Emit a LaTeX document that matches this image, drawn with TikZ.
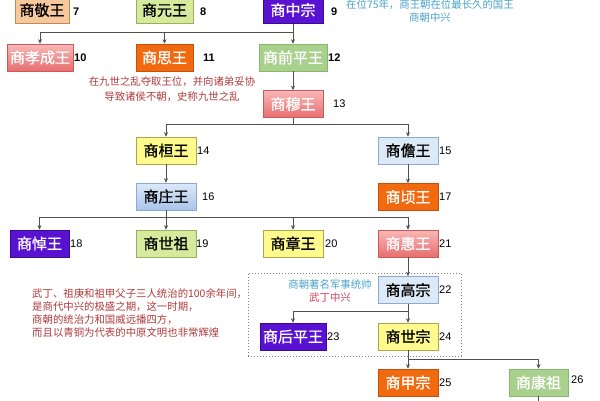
\documentclass[tikz,border=0pt]{standalone}
\usepackage{fontspec}
\setmainfont{Liberation Sans}
\newfontfamily\cjk{Noto Sans CJK SC}
\newfontfamily\cjkb[FakeBold=0.9]{Noto Sans CJK SC}
\usetikzlibrary{arrows.meta}
\definecolor{tanF}{HTML}{F6C89C}\definecolor{tanD}{HTML}{C08A55}
\definecolor{limeF}{HTML}{D6EA9E}\definecolor{limeD}{HTML}{9AB060}
\definecolor{purF}{HTML}{5A12D2}\definecolor{purD}{HTML}{3A0A90}
\definecolor{pinkT}{HTML}{F8B8B8}\definecolor{pinkB}{HTML}{E86E6E}\definecolor{pinkD}{HTML}{C85A5A}
\definecolor{oraF}{HTML}{F26A10}\definecolor{oraD}{HTML}{C85008}
\definecolor{grnF}{HTML}{A9D18E}\definecolor{grnD}{HTML}{88B870}
\definecolor{yelF}{HTML}{FFFA8E}\definecolor{yelD}{HTML}{B0A448}
\definecolor{bluF}{HTML}{DCE9F7}\definecolor{bluD}{HTML}{8CAAD0}
\definecolor{bluT}{HTML}{DDE9F8}\definecolor{bluB}{HTML}{A9C5EA}
\definecolor{noteBlue}{HTML}{4AA3C8}\definecolor{noteRed}{HTML}{B03A3A}
\definecolor{notePink}{HTML}{D0405E}\definecolor{lineC}{HTML}{505050}
\tikzset{
  king/.style={draw, line width=0.6pt, minimum height=27pt, minimum width=60pt, inner sep=0pt,
    font=\cjkb\fontsize{15}{15}\selectfont},
  tanbox/.style={king, fill=tanF, draw=tanD},
  limebox/.style={king, fill=limeF, draw=limeD},
  purbox/.style={king, fill=purF, draw=purD, text=white},
  pinkbox/.style={king, top color=pinkT, bottom color=pinkB, draw=pinkD, text=white},
  orabox/.style={king, fill=oraF, draw=oraD, text=white},
  grnbox/.style={king, fill=grnF, draw=grnD, text=white},
  yelbox/.style={king, fill=yelF, draw=yelD},
  blubox/.style={king, fill=bluF, draw=bluD},
  shbox/.style={king, top color=bluT, bottom color=bluB, draw=bluD},
  num/.style={anchor=west, inner sep=0pt, font=\fontsize{11}{11}\selectfont},
  bnum/.style={num, font=\bfseries\fontsize{11}{11}\selectfont},
  note/.style={inner sep=0pt, font=\cjk\fontsize{10.4}{13}\selectfont},
  con/.style={draw=lineC, line width=0.7pt},
  arr/.style={con, -{Stealth[length=4.5pt,width=4pt]}},
  grp/.style={draw=gray, dotted, line width=1pt, minimum width=213pt, minimum height=83pt, inner sep=0pt}
}
\begin{document}
\begin{tikzpicture}[x=1pt,y=-1pt]
\useasboundingbox[fill=white] (0,0) rectangle (600,400);
% group box
\node[grp] (g) at (354.5,314.5) {};
% kings
\node[tanbox, minimum width=54pt] (k7) at (42,10) {商敬王};
\node[limebox, minimum width=57pt] (k8) at (164.5,10) {商元王};
\node[purbox] (k9) at (293,10) {商中宗};
\node[pinkbox, minimum width=66pt] (k10) at (40,57.5) {商孝成王};
\node[orabox, minimum width=57pt] (k11) at (164.5,57.5) {商思王};
\node[grnbox, minimum width=68pt] (k12) at (293,57.5) {商前平王};
\node[pinkbox] (k13) at (293,104) {商穆王};
\node[yelbox] (k14) at (166,150.5) {商桓王};
\node[blubox] (k15) at (408,150.5) {商儋王};
\node[shbox] (k16) at (166,196.5) {商庄王};
\node[orabox] (k17) at (408,197) {商顷王};
\node[purbox, minimum width=59pt] (k18) at (39.5,243.5) {商悼王};
\node[limebox] (k19) at (166,243.5) {商世祖};
\node[yelbox] (k20) at (293,243.5) {商章王};
\node[pinkbox] (k21) at (408,243.5) {商惠王};
\node[blubox] (k22) at (408,290) {商高宗};
\node[purbox, minimum width=66pt] (k23) at (293,336.5) {商后平王};
\node[yelbox] (k24) at (408,336.5) {商世宗};
\node[orabox] (k25) at (408,382.5) {商甲宗};
\node[grnbox, minimum width=59pt] (k26) at (538.5,382.5) {商康祖};
% numbers
\node[bnum] (n7) at (73,12) {7};
\node[bnum] (n8) at (200,12) {8};
\node[bnum] (n9) at (331,12) {9};
\node[bnum] (n10) at (74,57.5) {10};
\node[bnum] (n11) at (203,57.5) {11};
\node[bnum] (n12) at (328,57.5) {12};
\node[num] (n13) at (333,104) {13};
\node[num] (n14) at (197,151) {14};
\node[num] (n15) at (439,151) {15};
\node[num] (n16) at (202,197) {16};
\node[num] (n17) at (439,197) {17};
\node[num] (n18) at (70,244) {18};
\node[num] (n19) at (196,244) {19};
\node[num] (n20) at (325,244) {20};
\node[num] (n21) at (439,244) {21};
\node[num] (n22) at (439,290) {22};
\node[num] (n23) at (327,337) {23};
\node[num] (n24) at (439,337) {24};
\node[num] (n25) at (439,383) {25};
\node[num] (n26) at (571,380) {26};
% notes
\node[note, text=noteBlue, align=center] (t1) at (430,11) {在位75年，商王朝在位最长久的国王\\商朝中兴};
\node[note, text=noteRed, align=center, font=\cjk\fontsize{10.4}{15}\selectfont] (t2) at (172,89.5) {在九世之乱夺取王位，并向诸弟妥协\\导致诸侯不朝，史称九世之乱};
\node[note, text=noteRed, align=left, anchor=west] (t3) at (32,313.5) {武丁、祖庚和祖甲父子三人统治的100余年间，\\是商代中兴的极盛之期，这一时期，\\商朝的统治力和国威远播四方，\\而且以青铜为代表的中原文明也非常辉煌};
\node[note, align=center] (t4) at (330,291.5) {\textcolor{noteBlue}{商朝著名军事统帅}\\\textcolor{notePink}{武丁中兴}};
% branch levels
\coordinate (b1) at (0,32);
\coordinate (b2) at (0,124);
\coordinate (b3) at (0,217);
\coordinate (b4) at (0,311);
\coordinate (b5) at (0,359);
\coordinate (endc) at (538.5,405);
% connectors
\draw[arr] (k9.south) -- (k12.north);
\draw[arr] (k9.south |- b1) -| (k10.north);
\draw[arr] (k9.south |- b1) -| (k11.north);
\draw[arr] (k12.south) -- (k13.north);
\draw[con] (k13.south) -- (k13.south |- b2);
\draw[arr] (k13.south |- b2) -| (k14.north);
\draw[arr] (k13.south |- b2) -| (k15.north);
\draw[arr] (k14.south) -- (k16.north);
\draw[arr] (k15.south) -- (k17.north);
\draw[arr] (k16.south) -- (k19.north);
\draw[arr] (k16.south |- b3) -| (k18.north);
\draw[arr] (k16.south |- b3) -| (k20.north);
\draw[arr] (k16.south |- b3) -| (k21.north);
\draw[arr] (k21.south) -- (k22.north);
\draw[arr] (k22.south) -- (k24.north);
\draw[arr] (k22.south |- b4) -| (k23.north);
\draw[arr] (k24.south) -- (k25.north);
\draw[arr] (k24.south |- b5) -| (k26.north);
\draw[con] (k26.south) -- (endc);
\end{tikzpicture}
\end{document}
